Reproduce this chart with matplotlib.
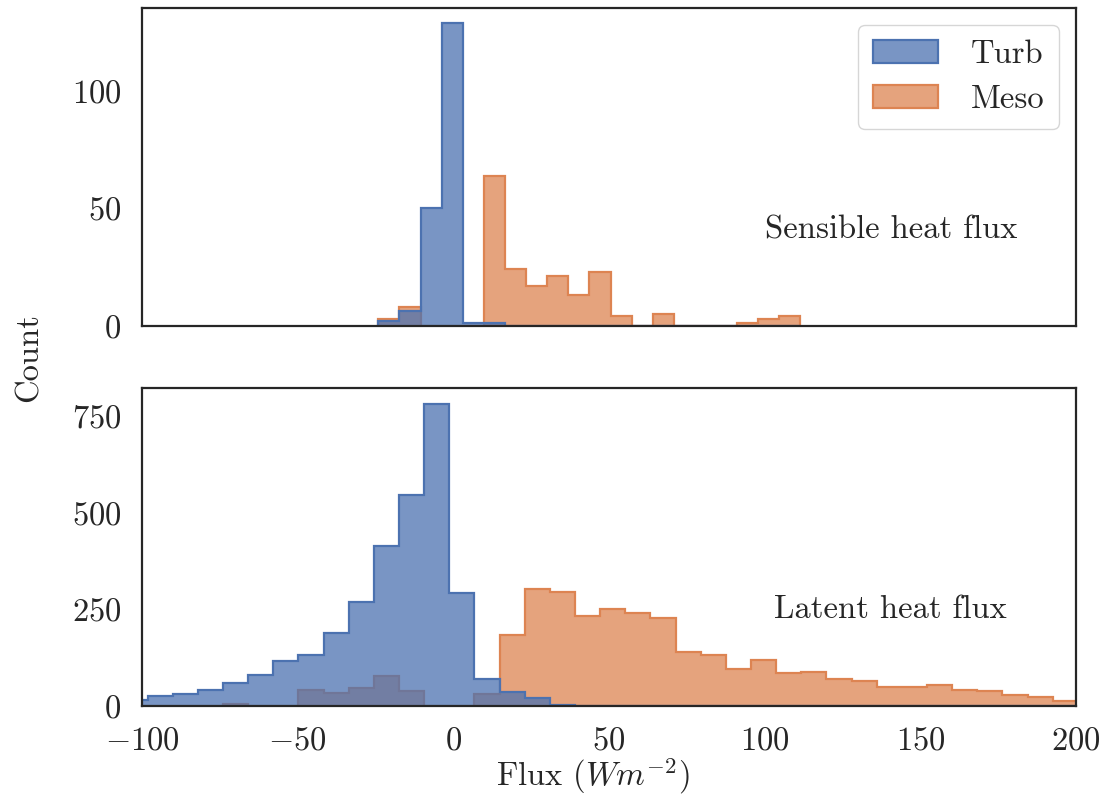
import numpy as np
import matplotlib
matplotlib.use("Agg")
import matplotlib.pyplot as plt
import seaborn as sns

sns.set_theme(style="white")
plt.rcParams['font.family'] = 'serif'
plt.rcParams['font.serif'] = ['cmr10', 'DejaVu Serif']
plt.rcParams['mathtext.fontset'] = 'cm'
plt.rcParams['axes.formatter.use_mathtext'] = True

# bins (common to both series in each panel)
sens_lo, sens_hi, sens_nbins = -24.1, 111.5, 20
lat_lo, lat_hi, lat_nbins = -106.3, 200.6, 38

# sensible heat flux counts
sens_turb = [2, 6, 50, 129, 1, 1, 0, 0, 0, 0, 0, 0, 0, 0, 0, 0, 0, 0, 0, 0]
sens_meso = [3, 8, 0, 0, 0, 64, 24, 17, 21, 13, 23, 4, 0, 5, 0, 0, 0, 1, 3, 4]

# latent heat flux counts
lat_turb = [16, 27, 32, 42, 60, 81, 116, 132, 188, 270, 413, 546, 783, 292, 69,
            35, 20, 3, 0, 1, 1, 0, 0, 0, 0, 0, 0, 0, 0, 0, 0, 0, 0, 0, 0, 0, 0, 0]
lat_meso = [0, 0, 0, 0, 6, 0, 0, 42, 33, 47, 78, 39, 0, 0, 30, 184, 304, 295,
            234, 250, 241, 228, 141, 133, 97, 118, 86, 89, 69, 65, 49, 49, 54,
            41, 38, 28, 24, 13]

labels = ['Turb', 'Meso']
colors = sns.color_palette()[:2]

fs = 23.5

fig, (ax1, ax2) = plt.subplots(2, 1, sharex=True, figsize=(11.07, 8), dpi=100)
fig.subplots_adjust(left=0.1283, right=0.972, top=0.99, bottom=0.1175, hspace=0.198)


def draw(ax, edges, turb, meso):
    # meso underneath, turb on top
    for vals, col, lab in [(meso, colors[1], labels[1]), (turb, colors[0], labels[0])]:
        ax.stairs(vals, edges, fill=True, facecolor=(*col, 0.75), edgecolor=col,
                  linewidth=1.6, label=lab)


sens_edges = np.linspace(sens_lo, sens_hi, sens_nbins + 1)
lat_edges = np.linspace(lat_lo, lat_hi, lat_nbins + 1)
draw(ax1, sens_edges, sens_turb, sens_meso)
draw(ax2, lat_edges, lat_turb, lat_meso)

ax2.set_xlim(-100, 200)
ax1.set_yticks([0, 50, 100])
ax2.set_yticks([0, 250, 500, 750])

for ax in (ax1, ax2):
    ax.tick_params(axis='both', length=0, pad=15, labelsize=fs, colors='.15')
    for sp in ax.spines.values():
        sp.set_linewidth(1.6)
        sp.set_color('.15')

ax1.text(100, 37, 'Sensible heat flux', fontsize=fs, color='.15', ha='left', va='baseline')
ax2.text(103, 228, 'Latent heat flux', fontsize=fs, color='.15', ha='left', va='baseline')

h, l = ax1.get_legend_handles_labels()
ax1.legend(h[::-1], l[::-1], loc='upper right', fontsize=fs, borderaxespad=0,
           bbox_to_anchor=(1059 / 1107, 1 - 25 / 800), bbox_transform=fig.transFigure,
           handletextpad=1.0, borderpad=0.45)

ax2.set_xlabel(r'Flux ($Wm^{-2}$)', fontsize=fs, color='.15', labelpad=0)
ax2.xaxis.label.set_x(0.483)
fig.text(0.026, 0.553, 'Count', rotation=90, fontsize=fs, color='.15', ha='center', va='center')

fig.savefig('out.png', dpi=100)
